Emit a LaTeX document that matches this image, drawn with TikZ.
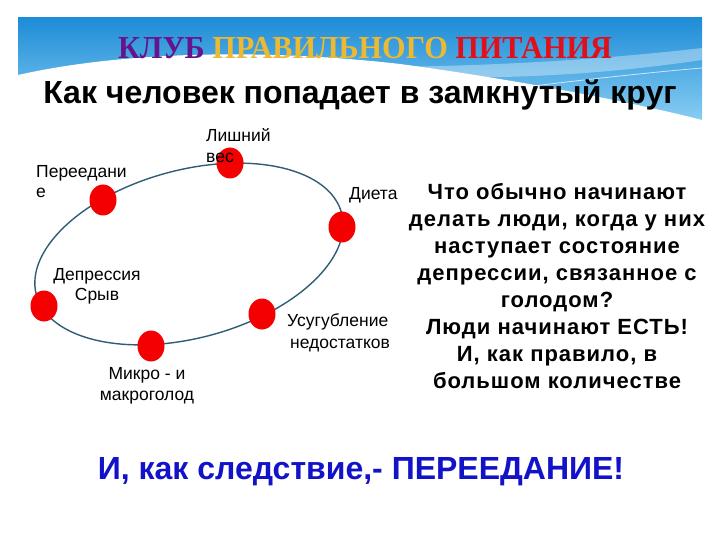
\documentclass[tikz,border=0pt]{standalone}
\usepackage{fontspec}
\setmainfont{Liberation Sans}
\newfontfamily\titleserif{Liberation Serif}
\newfontfamily\spacedsans[LetterSpace=4.5]{Liberation Sans}
\usetikzlibrary{shapes.geometric}
\definecolor{bannertop}{RGB}{30,140,215}
\definecolor{bannerbot}{RGB}{135,205,242}
\definecolor{clubpurple}{RGB}{102,20,140}
\definecolor{clubgold}{RGB}{235,185,50}
\definecolor{clubred}{RGB}{225,15,25}
\definecolor{ringline}{RGB}{47,93,117}
\definecolor{dotred}{RGB}{245,0,0}
\definecolor{finalblue}{RGB}{18,18,200}
\tikzset{
  dot/.style={ellipse, fill=dotred, minimum width=27pt, minimum height=31pt, inner sep=0pt},
  lbl/.style={inner sep=0pt, font=\fontsize{17.5}{21}\selectfont},
}
\begin{document}
\begin{tikzpicture}[x=1pt,y=-1pt]
\useasboundingbox (0,0) rectangle (720,540);
\fill[white] (0,0) rectangle (720,540);
% banner
\shade[top color=bannertop, bottom color=bannerbot] (18,18) rectangle (702,120);
\fill[white,opacity=0.35] (300,66) .. controls (450,70) and (600,60) .. (702,48) -- (702,60) .. controls (600,75) and (470,85) .. (300,70) -- cycle;
\fill[white] (18,75) .. controls (120,52) and (260,48) .. (400,64) .. controls (520,80) and (640,104) .. (702,120) -- (702,121) -- (18,121) -- cycle;
\draw[white,opacity=0.7,line width=0.8pt] (420,100) .. controls (540,85) and (620,75) .. (702,68);
% titles
\node[inner sep=0pt, anchor=base, font=\titleserif\bfseries\fontsize{32}{36}\selectfont] (club) at (365,59)
  {\scalebox{0.946}[1]{\textcolor{clubpurple}{КЛУБ} \textcolor{clubgold}{ПРАВИЛЬНОГО} \textcolor{clubred}{ПИТАНИЯ}}};
\node[inner sep=0pt, anchor=base, font=\bfseries\fontsize{32}{36}\selectfont] (sub) at (360,104)
  {Как человек попадает в замкнутый круг};
% ring
\coordinate (c) at (189,254);
\draw[ringline, line width=1.4pt, rotate around={15:(c)}] (c) ellipse [x radius=158pt, y radius=84pt];
\node[dot] (d1) at (230,163) {};
\node[dot] (d2) at (103,200) {};
\node[dot] (d3) at (342,227) {};
\node[dot] (d4) at (44,306) {};
\node[dot] (d5) at (262,314) {};
\node[dot] (d6) at (151,346) {};
% labels
\node[lbl, anchor=north west, align=left] (l1) at (206,128) {Лишний\\вес};
\node[lbl, anchor=north west, align=left, font=\fontsize{17.5}{19.5}\selectfont] (l2) at (36,165.7) {Переедани\\е};
\node[lbl, anchor=base west] (l3) at (349,200) {Диета};
\node[lbl, anchor=north, align=center, font=\fontsize{17.5}{20}\selectfont] (l4) at (97,268.4) {Депрессия\\Срыв};
\node[lbl, anchor=north west, align=left, font=\fontsize{17.5}{22}\selectfont] (l5) at (287,313.4) {Усугубление\\\hspace*{3pt}недостатков};
\node[lbl, anchor=north, align=center] (l6) at (147,367.4) {Микро - и\\макроголод};
% right text
\node[inner sep=0pt, anchor=north, align=center, font=\spacedsans\bfseries\fontsize{22}{27}\selectfont] (txt) at (557,183)
  {Что обычно начинают\\делать люди, когда у них\\наступает состояние\\депрессии, связанное с\\голодом?\\Люди начинают ЕСТЬ!\\И, как правило, в\\большом количестве};
% conclusion
\node[inner sep=0pt, anchor=base, text=finalblue, font=\bfseries\fontsize{32}{36}\selectfont] (concl) at (361,479)
  {И, как следствие,- ПЕРЕЕДАНИЕ!};
\end{tikzpicture}
\end{document}
